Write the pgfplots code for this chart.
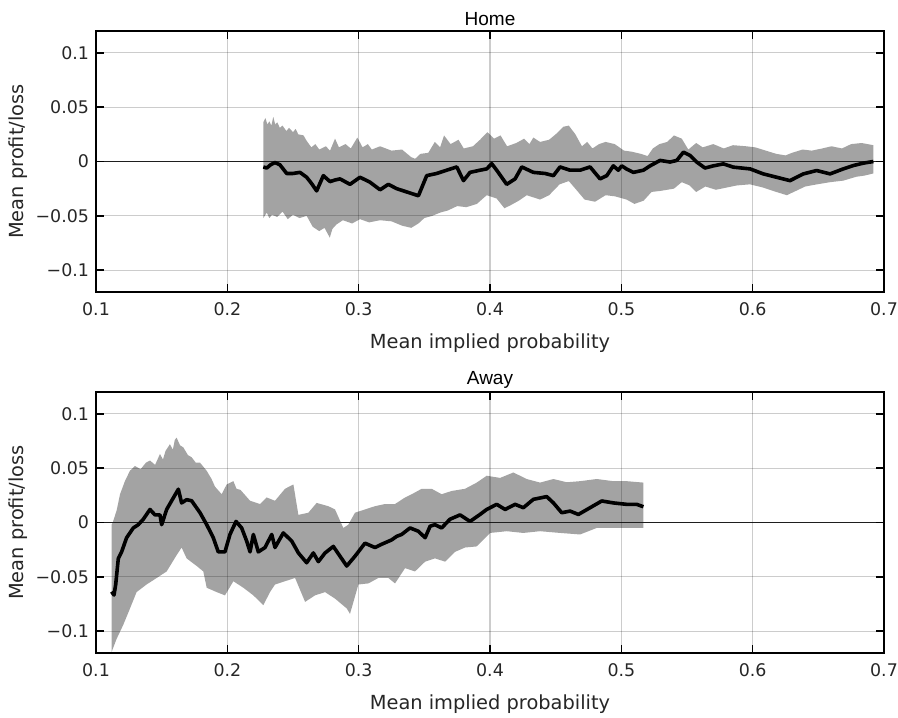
\documentclass[border=0pt]{standalone}
\usepackage{fontspec}
\setmainfont{DejaVu Sans}
\newfontfamily\titlefont{Liberation Sans}
\usepackage{pgfplots}
\usepackage{pgfplotstable}
\pgfplotsset{compat=1.18}
\usepgfplotslibrary{fillbetween}
\definecolor{band}{RGB}{163,163,163}

% ---------------- Home ----------------
\pgfplotstableread{
x y
0.2274 -0.005
0.2300 -0.006
0.2330 -0.003
0.2363 -0.001
0.2400 -0.003
0.2452 -0.011
0.2500 -0.011
0.2553 -0.010
0.2604 -0.0145
0.2640 -0.020
0.2680 -0.027
0.2731 -0.013
0.2782 -0.0185
0.2820 -0.017
0.2858 -0.016
0.2934 -0.021
0.3010 -0.0145
0.3086 -0.019
0.3163 -0.026
0.3226 -0.021
0.3290 -0.025
0.3341 -0.027
0.3455 -0.0315
0.3518 -0.013
0.3594 -0.011
0.3670 -0.008
0.3747 -0.005
0.3798 -0.0176
0.3848 -0.010
0.3924 -0.008
0.3975 -0.0068
0.4013 -0.002
0.4051 -0.008
0.4127 -0.021
0.4191 -0.016
0.4242 -0.005
0.4330 -0.010
0.4419 -0.011
0.4483 -0.013
0.4533 -0.005
0.4609 -0.008
0.4686 -0.008
0.4762 -0.005
0.4838 -0.016
0.4889 -0.013
0.4939 -0.004
0.4977 -0.008
0.5003 -0.004
0.5041 -0.007
0.5092 -0.010
0.5168 -0.008
0.5219 -0.004
0.5295 0.001
0.5371 -0.0005
0.5422 0.001
0.5473 0.0086
0.5523 0.0056
0.5574 -0.0005
0.5637 -0.006
0.5701 -0.004
0.5777 -0.0022
0.5853 -0.0052
0.5980 -0.0068
0.6081 -0.0114
0.6183 -0.0145
0.6284 -0.0176
0.6386 -0.0114
0.6487 -0.0083
0.6589 -0.0114
0.6690 -0.0068
0.6767 -0.0037
0.6843 -0.0015
0.6919 0.000
}\homemean

\pgfplotstableread{
x y
0.2274 0.036
0.2290 0.040
0.2305 0.034
0.2320 0.037
0.2335 0.033
0.2350 0.041
0.2365 0.034
0.2380 0.036
0.2400 0.031
0.2420 0.033
0.2450 0.028
0.2470 0.031
0.2500 0.027
0.2520 0.030
0.2540 0.025
0.2580 0.024
0.2604 0.019
0.2640 0.013
0.2670 0.016
0.2700 0.011
0.2750 0.014
0.2782 0.010
0.2820 0.021
0.2850 0.013
0.2900 0.016
0.2940 0.012
0.2990 0.022
0.3030 0.013
0.3070 0.016
0.3100 0.011
0.3163 0.014
0.3250 0.010
0.3330 0.011
0.3400 0.004
0.3430 0.0025
0.3470 0.007
0.3530 0.008
0.3560 0.014
0.3580 0.018
0.3620 0.013
0.3650 0.024
0.3700 0.016
0.3760 0.020
0.3800 0.012
0.3870 0.014
0.3924 0.020
0.3980 0.027
0.4030 0.021
0.4080 0.024
0.4130 0.014
0.4200 0.017
0.4260 0.021
0.4300 0.016
0.4330 0.022
0.4381 0.018
0.4450 0.020
0.4500 0.025
0.4560 0.032
0.4600 0.033
0.4650 0.025
0.4700 0.014
0.4740 0.018
0.4780 0.012
0.4830 0.016
0.4880 0.018
0.4950 0.016
0.5020 0.010
0.5080 0.009
0.5150 0.007
0.5200 0.005
0.5240 0.012
0.5290 0.016
0.5350 0.018
0.5400 0.024
0.5460 0.021
0.5510 0.011
0.5570 0.017
0.5620 0.013
0.5700 0.016
0.5780 0.012
0.5850 0.015
0.5950 0.014
0.6020 0.013
0.6100 0.010
0.6180 0.007
0.6250 0.0056
0.6300 0.008
0.6380 0.011
0.6450 0.010
0.6530 0.012
0.6600 0.014
0.6680 0.012
0.6750 0.016
0.6830 0.017
0.6919 0.015
}\homeup

\pgfplotstableread{
x y
0.2274 -0.052
0.2300 -0.047
0.2320 -0.052
0.2340 -0.049
0.2380 -0.051
0.2420 -0.046
0.2460 -0.053
0.2500 -0.049
0.2550 -0.052
0.2604 -0.050
0.2650 -0.060
0.2700 -0.064
0.2740 -0.061
0.2780 -0.070
0.2800 -0.062
0.2830 -0.058
0.2880 -0.054
0.2950 -0.057
0.3010 -0.053
0.3080 -0.056
0.3163 -0.054
0.3250 -0.055
0.3330 -0.059
0.3400 -0.061
0.3455 -0.057
0.3500 -0.052
0.3560 -0.050
0.3620 -0.047
0.3680 -0.045
0.3750 -0.041
0.3820 -0.042
0.3900 -0.039
0.3975 -0.031
0.4050 -0.034
0.4110 -0.043
0.4160 -0.040
0.4220 -0.036
0.4280 -0.031
0.4381 -0.035
0.4450 -0.031
0.4530 -0.021
0.4600 -0.018
0.4650 -0.025
0.4720 -0.035
0.4800 -0.037
0.4880 -0.031
0.4950 -0.032
0.5040 -0.035
0.5100 -0.039
0.5170 -0.036
0.5230 -0.028
0.5300 -0.027
0.5400 -0.025
0.5460 -0.019
0.5520 -0.022
0.5570 -0.028
0.5640 -0.023
0.5720 -0.026
0.5800 -0.024
0.5880 -0.022
0.5980 -0.021
0.6080 -0.024
0.6180 -0.028
0.6260 -0.031
0.6330 -0.027
0.6400 -0.023
0.6490 -0.021
0.6590 -0.019
0.6690 -0.0176
0.6790 -0.014
0.6850 -0.013
0.6919 -0.011
}\homelo

% ---------------- Away ----------------
\pgfplotstableread{
x y
0.1119 -0.0636
0.1137 -0.0667
0.1150 -0.057
0.1170 -0.033
0.1195 -0.027
0.1233 -0.014
0.1284 -0.005
0.1322 -0.002
0.1360 0.003
0.1411 0.012
0.1449 0.007
0.1487 0.007
0.1500 -0.002
0.1538 0.012
0.1576 0.020
0.1627 0.0306
0.1652 0.018
0.1690 0.021
0.1728 0.020
0.1792 0.009
0.1843 -0.002
0.1893 -0.014
0.1931 -0.027
0.1982 -0.027
0.2020 -0.011
0.2066 0.001
0.2109 -0.005
0.2147 -0.017
0.2173 -0.027
0.2198 -0.011
0.2236 -0.027
0.2287 -0.023
0.2338 -0.011
0.2363 -0.023
0.2426 -0.0096
0.2490 -0.017
0.2541 -0.028
0.2604 -0.037
0.2655 -0.028
0.2693 -0.036
0.2744 -0.028
0.2807 -0.022
0.2858 -0.031
0.2909 -0.040
0.2972 -0.031
0.3048 -0.019
0.3124 -0.023
0.3175 -0.020
0.3251 -0.016
0.3290 -0.0127
0.3327 -0.011
0.3391 -0.005
0.3454 -0.008
0.3506 -0.014
0.3544 -0.0034
0.3581 -0.002
0.3632 -0.005
0.3695 0.003
0.3772 0.007
0.3848 0.001
0.3924 0.0074
0.3975 0.012
0.4051 0.0167
0.4115 0.012
0.4191 0.0167
0.4254 0.0136
0.4330 0.0213
0.4432 0.0238
0.4483 0.018
0.4546 0.009
0.4610 0.0105
0.4673 0.0074
0.4762 0.0136
0.4851 0.0198
0.4940 0.018
0.5041 0.0167
0.5117 0.0167
0.5168 0.0145
}\awaymean

\pgfplotstableread{
x y
0.1119 -0.002
0.1130 0.001
0.1157 0.011
0.1183 0.026
0.1220 0.038
0.1258 0.0475
0.1296 0.052
0.1340 0.049
0.1380 0.055
0.1411 0.057
0.1450 0.053
0.1487 0.063
0.1510 0.058
0.1530 0.066
0.1563 0.072
0.1585 0.067
0.1600 0.076
0.1614 0.078
0.1640 0.071
0.1665 0.069
0.1700 0.062
0.1728 0.060
0.1760 0.055
0.1792 0.055
0.1843 0.0475
0.1880 0.040
0.1906 0.033
0.1957 0.026
0.1995 0.035
0.2046 0.038
0.2070 0.031
0.2100 0.030
0.2173 0.020
0.2249 0.017
0.2300 0.023
0.2363 0.020
0.2439 0.031
0.2503 0.035
0.2541 0.007
0.2617 0.009
0.2680 0.018
0.2769 0.015
0.2820 0.012
0.2883 -0.005
0.2921 -0.002
0.2972 0.009
0.3048 0.012
0.3124 0.015
0.3201 0.017
0.3277 0.017
0.3353 0.023
0.3404 0.026
0.3480 0.031
0.3556 0.031
0.3632 0.026
0.3708 0.029
0.3810 0.031
0.3899 0.0367
0.3975 0.043
0.4077 0.041
0.4178 0.046
0.4279 0.040
0.4381 0.0367
0.4483 0.040
0.4584 0.037
0.4686 0.038
0.4813 0.040
0.4940 0.038
0.5041 0.038
0.5168 0.0367
}\awayup

\pgfplotstableread{
x y
0.1119 -0.119
0.1157 -0.107
0.1208 -0.094
0.1259 -0.079
0.1309 -0.064
0.1385 -0.057
0.1462 -0.051
0.1538 -0.045
0.1614 -0.030
0.1652 -0.023
0.1690 -0.033
0.1767 -0.040
0.1817 -0.045
0.1843 -0.060
0.1919 -0.064
0.1982 -0.067
0.2046 -0.054
0.2122 -0.060
0.2198 -0.067
0.2274 -0.076
0.2325 -0.064
0.2363 -0.057
0.2439 -0.054
0.2516 -0.051
0.2592 -0.073
0.2668 -0.067
0.2744 -0.064
0.2820 -0.070
0.2909 -0.079
0.2934 -0.084
0.2998 -0.057
0.3074 -0.056
0.3150 -0.051
0.3226 -0.051
0.3277 -0.056
0.3353 -0.042
0.3429 -0.045
0.3506 -0.036
0.3581 -0.033
0.3658 -0.036
0.3734 -0.027
0.3810 -0.023
0.3899 -0.022
0.4001 -0.0096
0.4127 -0.008
0.4254 -0.0096
0.4381 -0.008
0.4534 -0.0096
0.4686 -0.011
0.4813 -0.005
0.4940 -0.005
0.5067 -0.005
0.5168 -0.005
}\awaylo

\pgfplotsset{
  panel/.style={
    width=394pt, height=130.5pt, scale only axis,
    xmin=0.1, xmax=0.7, ymin=-0.12, ymax=0.12,
    xtick={0.1,0.2,0.3,0.4,0.5,0.6,0.7},
    xticklabels={0.1,0.2,0.3,0.4,0.5,0.6,0.7},
    ytick={-0.1,-0.05,0,0.05,0.1},
    yticklabels={−0.1,−0.05,0,0.05,0.1},
    tick align=inside, major tick length=4pt,
    tick style={black, line width=0.8pt},
    grid=major,
    major grid style={black, opacity=0.2, line width=0.6pt},
    axis line style={line width=0.9pt},
    axis on top,
    tick label style={font=\fontsize{8.7}{10}\selectfont, text=black!85},
    label style={font=\fontsize{9.7}{11}\selectfont, text=black!85},
    xlabel={Mean implied probability},
    ylabel={Mean profit/loss},
    xlabel style={at={(axis description cs:0.5,0)}, anchor=center, yshift=-25.5pt},
    ylabel style={at={(axis description cs:-0.099,0.5)}, anchor=center},
    title style={font=\titlefont\fontsize{9.5}{11}\selectfont, at={(axis description cs:0.5,1)}, anchor=center, yshift=0pt},
    xticklabel style={yshift=-2pt},
  },
}

\begin{document}
\begin{tikzpicture}
\begin{axis}[panel, at={(0,0)}, anchor=south west, title={Home}]
  \addplot[name path=HU, draw=none, forget plot] table {\homeup};
  \addplot[name path=HL, draw=none, forget plot] table {\homelo};
  \addplot[fill=band, draw=none] fill between[of=HU and HL];
  \addplot[black!85, line width=0.6pt] coordinates {(0.1,0) (0.7,0)};
  \addplot[black, line width=1.8pt, line join=round] table {\homemean};
\end{axis}

\begin{axis}[panel, at={(0,-180.5pt)}, anchor=south west, title={Away}]
  \addplot[name path=AU, draw=none, forget plot] table {\awayup};
  \addplot[name path=AL, draw=none, forget plot] table {\awaylo};
  \addplot[fill=band, draw=none] fill between[of=AU and AL];
  \addplot[black!85, line width=0.6pt] coordinates {(0.1,0) (0.7,0)};
  \addplot[black, line width=1.8pt, line join=round] table {\awaymean};
\end{axis}
\pgfresetboundingbox
\path[use as bounding box] (-48pt,-212.5pt) rectangle (401pt,146pt);
\end{tikzpicture}
\end{document}
